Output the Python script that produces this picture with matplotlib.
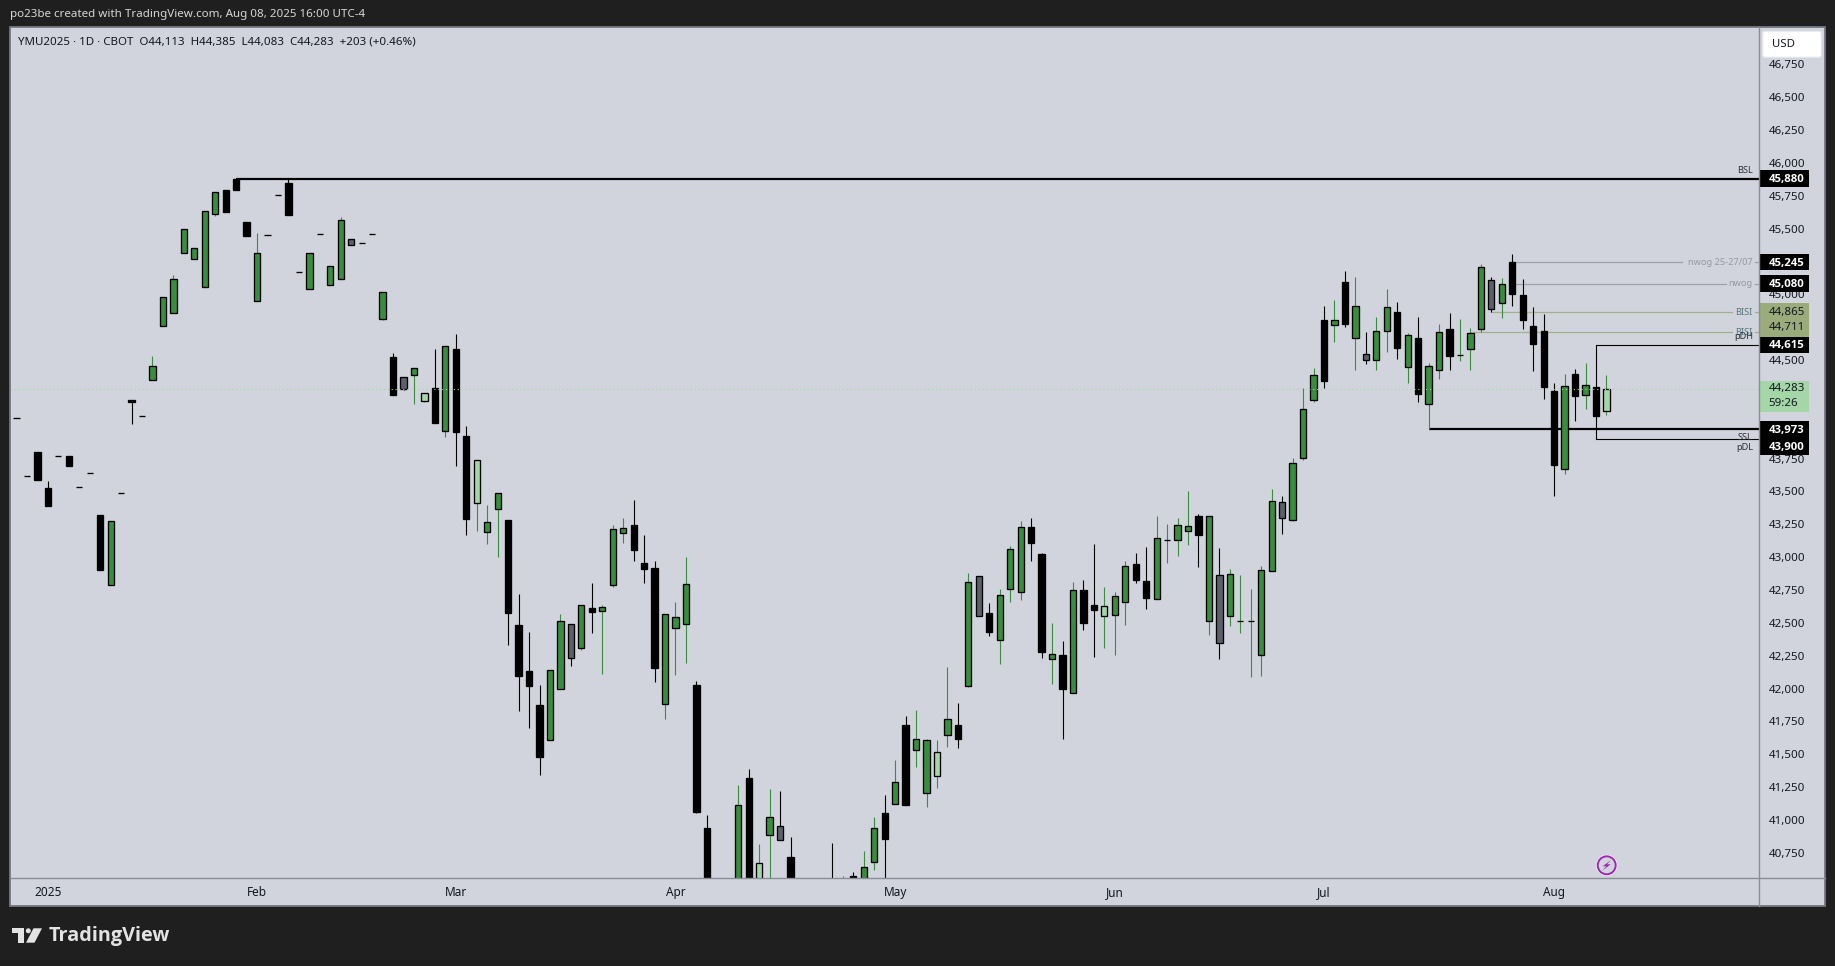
import numpy as np
import matplotlib
matplotlib.use('Agg')
import matplotlib.pyplot as plt
from matplotlib.patches import Rectangle, Polygon, FancyBboxPatch, Ellipse
from matplotlib.transforms import blended_transform_factory

W = 1835
H = 966
nan = np.nan

# daily candles (nan = below the visible pane)
kind = list(
    'kkkkkkkkkg' 'kkkggggggg' 'kkkgkkkkgk' 'ggskkgksgl' 'kgkklggkkk'
    'kggsgkgggk' 'kkgggkkkkg' 'klgskkkkkg' 'kggkgkgglg' 'kgskgggkkg'
    'kgkklggkkg' 'gggkgsgggg' 'gsgggkgkgs' 'ggkgkggkgg' 'gsgkkkkkgk'
    'gkl')
body_top = [
    44057, 43615, 43800, 43526, 43767, 43770, 43531, 43638, 43321, 43275,
    43486, 44196, 44072, 44452, 44977, 45114, 45495, 45350, 45632, 45776,
    45794, 45878, 45550, 45312, 45449, 45753, 45847, 45167, 45312, 45456,
    45213, 45563, 45418, 45388, 45456, 45015, 44523, 44369, 44437, 44247,
    44285, 44605, 44584, 43922, 43737, 43265, 43486, 43283, 42483, 42133,
    41875, 42138, 42511, 42488, 42633, 42613, 42618, 43212, 43219, 43245,
    42955, 42917, 42565, 42542, 42793, 42027, 40936, nan, nan, 41111,
    41316, 40670, 41020, 40951, 40715, nan, nan, nan, 40500, 40500,
    40571, 40639, 40936, 41050, 41286, 41720, 41613, 41606, 41514, 41765,
    41720, 42808, 42854, 42572, 42709, 43059, 43227, 43227, 43021, 42260,
    42255, 42747, 42747, 42635, 42625, 42701, 42930, 42945, 42816, 43143,
    43128, 43242, 43234, 43310, 43313, 42861, 42869, 42511, 42511, 42899,
    43424, 43417, 43714, 44124, 44383, 44802, 44804, 45091, 44911, 44543,
    44718, 44900, 44865, 44687, 44667, 44451, 44710, 44736, 44540, 44703,
    45205, 45106, 45076, 45243, 44992, 44756, 44720, 44264, 44299, 44391,
    44307, 44294, 44283]
body_bot = [
    44057, 43615, 43587, 43389, 43767, 43694, 43531, 43638, 42902, 42788,
    43486, 44183, 44072, 44348, 44762, 44860, 45317, 45271, 45058, 45614,
    45626, 45794, 45444, 44952, 45449, 45753, 45604, 45167, 45043, 45456,
    45073, 45119, 45378, 45388, 45456, 44815, 44234, 44277, 44386, 44191,
    44021, 43963, 43953, 43290, 43415, 43194, 43369, 42577, 42098, 42022,
    41481, 41611, 42000, 42235, 42311, 42582, 42592, 42790, 43186, 43054,
    42910, 42156, 41885, 42463, 42494, 41060, 40200, nan, nan, 40200,
    40200, 40300, 40888, 40850, 40300, nan, nan, nan, 40300, 40450,
    40450, 40450, 40682, 40857, 41124, 41116, 41535, 41207, 41337, 41649,
    41618, 42021, 42549, 42430, 42372, 42760, 42737, 43110, 42280, 42227,
    41999, 41968, 42498, 42597, 42554, 42562, 42661, 42826, 42689, 42684,
    43128, 43133, 43201, 43171, 42514, 42349, 42554, 42511, 42511, 42257,
    42897, 43300, 43285, 43756, 44198, 44342, 44766, 44776, 44670, 44502,
    44502, 44723, 44591, 44449, 44243, 44167, 44426, 44530, 44540, 44586,
    44738, 44890, 44931, 45005, 44807, 44621, 44294, 43701, 43673, 44228,
    44236, 44076, 44113]
high = [
    44057, 43615, 43800, 43577, 43767, 43770, 43531, 43638, 43321, 43275,
    43486, 44196, 44072, 44531, 44977, 45147, 45495, 45350, 45632, 45776,
    45794, 45878, 45550, 45464, 45449, 45753, 45878, 45167, 45312, 45456,
    45213, 45586, 45418, 45388, 45456, 45015, 44554, 44369, 44437, 44247,
    44584, 44605, 44698, 43998, 43737, 43394, 43486, 43283, 42719, 42430,
    42027, 42138, 42565, 42488, 42633, 42803, 42633, 43242, 43298, 43435,
    43168, 42971, 42565, 42658, 43001, 42057, 41035, nan, nan, 41266,
    41385, 40817, 41235, 41218, 40867, nan, nan, nan, 40822, 40573,
    40603, 40763, 41022, 41190, 41456, 41788, 41836, 41613, 41606, 42161,
    41887, 42879, 42854, 42648, 42755, 43084, 43275, 43295, 43029, 42498,
    42359, 42810, 42826, 43100, 42772, 42734, 42968, 43031, 43077, 43313,
    43252, 43295, 43500, 43325, 43313, 43069, 42907, 42861, 42755, 42932,
    43518, 43465, 43751, 44287, 44436, 44911, 44956, 45177, 45131, 44713,
    44824, 45038, 44941, 44703, 44827, 44479, 44774, 44857, 44812, 44743,
    45230, 45131, 45126, 45306, 45116, 44903, 44847, 44322, 44393, 44429,
    44477, 44294, 44385]
low = [
    44057, 43615, 43587, 43389, 43767, 43694, 43531, 43638, 42902, 42788,
    43486, 44013, 44072, 44348, 44762, 44860, 45317, 45271, 45058, 45599,
    45626, 45794, 45444, 44952, 45449, 45753, 45604, 45167, 45043, 45456,
    45073, 45119, 45378, 45388, 45456, 44805, 44234, 44270, 44166, 44181,
    44021, 43915, 43694, 43169, 43199, 43100, 43001, 42331, 41831, 41699,
    41344, 41611, 42000, 42171, 42293, 42423, 42113, 42775, 43110, 42971,
    42806, 42050, 41768, 42103, 42194, 41055, 40200, nan, nan, 40200,
    40200, 40300, 40400, 40850, 40300, nan, nan, nan, 40300, 40450,
    40450, 40450, 40619, 40500, 41124, 41116, 41405, 41098, 41245, 41557,
    41550, 42014, 42549, 42399, 42186, 42658, 42673, 42970, 42232, 42034,
    41616, 41968, 42445, 42240, 42308, 42255, 42483, 42803, 42605, 42684,
    42958, 43008, 43092, 42925, 42407, 42224, 42476, 42422, 42087, 42095,
    42897, 43176, 43275, 43741, 44183, 44287, 44637, 44751, 44424, 44469,
    44424, 44561, 44507, 44325, 44180, 43975, 44355, 44424, 44495, 44424,
    44713, 44865, 44819, 44911, 44736, 44416, 44205, 43465, 43632, 44035,
    44127, 44076, 44083]

month_pos = [3, 23, 42, 63, 84, 105, 125, 147]
month_labels = ['2025', 'Feb', 'Mar', 'Apr', 'May', 'Jun', 'Jul', 'Aug']
# 45,250 / 44,750 / 44,250 sit fully under the tags, so they are left out
price_ticks = [40750, 41000, 41250, 41500, 41750, 42000, 42250, 42500, 42750, 43000,
               43250, 43500, 43750, 44000, 44500, 45000, 45500, 45750, 46000, 46250,
               46500, 46750]

# horizontal drawings
bsl = 45880
ssl = 43973
pdh = 44615
pdl = 43900
nwog1 = 45245
nwog2 = 45080
bisi1 = 44865
bisi2 = 44711
last_price = 44283

# price tags on the axis: label, height in the axis (some are pushed apart)
tag_labels = ['45,880', '45,245', '45,080', '44,615', '43,973', '43,900']
tag_prices = [45880, 45245, 45080, 44615, 43973, 43842]

BG = '#1f1f1f'
PANE = '#d1d4dc'
GREEN = '#388e3c'
LIGHT = '#a5d6a7'
SLATE = '#5d606b'
AXLINE = '#8a8d97'
TXT = '#131722'
FONT = 'Noto Sans'

plt.rcParams['font.family'] = [FONT, 'DejaVu Sans']

fig = plt.figure(figsize=(W / 100, H / 100), dpi=100, facecolor=BG)


def fx(px):
    return px / W


def fy(py):
    return 1 - py / H


def make_axes(l, t, r, b):
    return fig.add_axes([fx(l), fy(b), (r - l) / W, (b - t) / H])


ax_b = make_axes(10.3, 878.3, 1825, 905.7)
ax = make_axes(10.3, 27.3, 1759.3, 878.3)
ax_p = make_axes(1759.3, 27.3, 1825, 878.3)

xmax = (1759.3 - 16.5) / 10.46
xmin = (10.3 - 16.5) / 10.46
ymin = 45880 - 7.61 * (878.3 - 178.7)
ymax = 45880 + 7.61 * (178.7 - 27.3)

ax.set_xlim(xmin, xmax)
ax.set_ylim(ymin, ymax)
ax_p.set_xlim(0, 1)
ax_p.set_ylim(ymin, ymax)

for a in [ax, ax_p, ax_b]:
    a.set_facecolor(PANE)
    for s in a.spines.values():
        s.set_visible(False)
ax_b.set_xticks([])
ax_b.set_yticks([])

ax.set_yticks([])
ax.set_xticks(month_pos, month_labels, fontsize=8.5, color=TXT)
ax.tick_params(axis='x', length=0, pad=5.5)
ax.get_xticklabels()[0].set_fontweight('bold')

ax_p.set_xticks([])
ax_p.yaxis.tick_right()
ax_p.set_yticks(price_ticks, [f'{p:,}' for p in price_ticks], fontsize=8.3, color=TXT)
ax_p.tick_params(axis='y', length=0, pad=-40.3)
ax_p.set_axisbelow(True)

# candles
colors = {'g': GREEN, 'k': 'black', 's': SLATE, 'l': LIGHT}
wick_colors = {'g': GREEN, 'k': 'black', 's': 'black', 'l': GREEN}
for i in range(len(kind)):
    if np.isnan(body_top[i]):
        continue
    ax.vlines(i, low[i], high[i], color=wick_colors[kind[i]], lw=0.8, zorder=3)
    ax.bar(i, body_top[i] - body_bot[i], bottom=body_bot[i], width=0.6,
           color=colors[kind[i]], edgecolor='black', linewidth=0.95, zorder=4)

# drawings
ax.plot([21, xmax], [bsl, bsl], color='black', lw=1.6, zorder=2, solid_capstyle='butt')
ax.plot([135, xmax], [ssl, ssl], color='black', lw=1.6, zorder=2, solid_capstyle='butt')
ax.plot([xmax, 151, 151, xmax], [pdh, pdh, pdl, pdl], color='black', lw=0.8, zorder=2)

px_to_i = lambda p: (p - 16.5) / 10.46
gray_line = '#9ea1a9'
bisi_line = '#a3b18a'
for price, start, stop, col in [(nwog1, 143, 1682, gray_line), (nwog2, 143, 1726, gray_line),
                                (bisi1, 141, 1732, bisi_line), (bisi2, 139, 1732, bisi_line)]:
    ax.plot([start, px_to_i(stop)], [price, price], color=col, lw=0.9, zorder=2)
    ax.plot([px_to_i(1755), xmax], [price, price], color=col, lw=0.9, zorder=2)

ax.axhline(last_price, color=LIGHT, lw=0.8, ls=(0, (1, 2.5)), zorder=5)

tr = blended_transform_factory(ax.transAxes, ax.transData)
for txt, price, dy, col in [('BSL', bsl, 8, '#2a2e39'),
                            ('nwog 25-27/07', nwog1, 0, '#9598a1'),
                            ('nwog', nwog2, 0, '#9598a1'),
                            ('BISI', bisi1, 0, '#55777a'),
                            ('BISI', bisi2, 0, '#55777a'),
                            ('pDH', pdh, 8, '#2a2e39'),
                            ('SSL', ssl, -8, '#2a2e39'),
                            ('pDL', pdl, -9, '#2a2e39')]:
    ax.text(1 - 6.5 / 1749, price + dy * 7.61, txt, transform=tr, ha='right', va='center',
            fontsize=6.6, color=col, zorder=6)

# price axis tags
hh = 8.35 * 7.61
TAG_X = 0.14
ax_p.add_patch(Rectangle((0, 44675), 0.756, 34 * 7.61, color='#9aab7c', zorder=3, lw=0))
for lab, p in [('44,865', 44865), ('44,711', 44711 + 5 * 7.61)]:
    ax_p.text(TAG_X, p, lab, ha='left', va='center', fontsize=8.3, color=TXT, zorder=4)
for lab, p in zip(tag_labels, tag_prices):
    ax_p.add_patch(Rectangle((0, p - hh), 0.756, 2 * hh, color='black', zorder=5, lw=0))
    ax_p.text(TAG_X, p - 7.61, lab, ha='left', va='center', fontsize=8.2, color='white',
              fontweight='bold', family='Open Sans', zorder=6)
ax_p.add_patch(Rectangle((0, 44107), 0.756, 30.7 * 7.61, color=LIGHT, zorder=3, lw=0))
ax_p.text(TAG_X, 44283, '44,283', ha='left', va='center', fontsize=8.3, color=TXT, zorder=4)
ax_p.text(TAG_X, 44283 - 14.5 * 7.61, '59:26', ha='left', va='center', fontsize=8.3, color=TXT, zorder=4)

# figure level stuff in pixel coordinates
fig.add_artist(plt.Line2D([fx(10.3), fx(1825)], [fy(878.3), fy(878.3)], color=AXLINE, lw=1))
fig.add_artist(plt.Line2D([fx(1759.3), fx(1759.3)], [fy(27.3), fy(905.7)], color=AXLINE, lw=1))
fig.add_artist(Rectangle((fx(10.3), fy(905.7)), (1825 - 10.3) / W, (905.7 - 27.3) / H,
                         fill=False, edgecolor='#74777f', lw=1.3))

usd = FancyBboxPatch((fx(1765), fy(55)), 54 / W, 21.5 / H, boxstyle='round,pad=0.0012',
                     facecolor='white', edgecolor='#e8e9ee', lw=0.8, zorder=8,
                     mutation_aspect=W / H)
fig.add_artist(usd)
fig.text(fx(1772), fy(44.5), 'USD', fontsize=8.2, color=TXT, va='center', zorder=9)

fig.text(fx(10), fy(15), 'po23be created with TradingView.com, Aug 08, 2025 16:00 UTC-4',
         fontsize=8.35, color='#d6d6d6', va='center')
fig.text(fx(18), fy(42.5), 'YMU2025 · 1D · CBOT  O44,113  H44,385  L44,083  C44,283  +203 (+0.46%)',
         fontsize=8.3, color=TXT, va='center')

# TradingView logo
logo = '#e3e3e3'
fig.add_artist(Polygon([(fx(12), fy(928.3)), (fx(24), fy(928.3)), (fx(24), fy(942.7)),
                        (fx(18.2), fy(942.7)), (fx(18.2), fy(933.2)), (fx(12), fy(933.2))],
                       closed=True, color=logo, lw=0))
fig.add_artist(Polygon([(fx(33.5), fy(928.3)), (fx(42), fy(928.3)), (fx(34.5), fy(942.7)),
                        (fx(26), fy(942.7))], closed=True, color=logo, lw=0))
fig.add_artist(Ellipse((fx(28.3), fy(930.8)), 5 / W, 5 / H, color=logo, lw=0))
fig.text(fx(49), fy(936), 'TradingView', fontsize=14.3, color=logo, va='center',
         fontweight='bold', family='Open Sans')

# lightning icon
icon_x = 1606.7
icon_y = 865.3
fig.add_artist(Ellipse((fx(icon_x), fy(icon_y)), 21 / W, 21 / H, facecolor='white', edgecolor='none'))
fig.add_artist(Ellipse((fx(icon_x), fy(icon_y)), 18 / W, 18 / H, facecolor=PANE,
                       edgecolor='#9c27b0', lw=1.4))
bolt = [(4.5, -5.5), (-4, 1), (-0.3, 1), (-4.5, 5.5), (4, -1), (0.3, -1)]
fig.add_artist(Polygon([(fx(icon_x + a), fy(icon_y + b)) for a, b in bolt], closed=True,
                       color='#9c27b0', lw=0))

fig.savefig('out.png', dpi=100, facecolor=BG)
